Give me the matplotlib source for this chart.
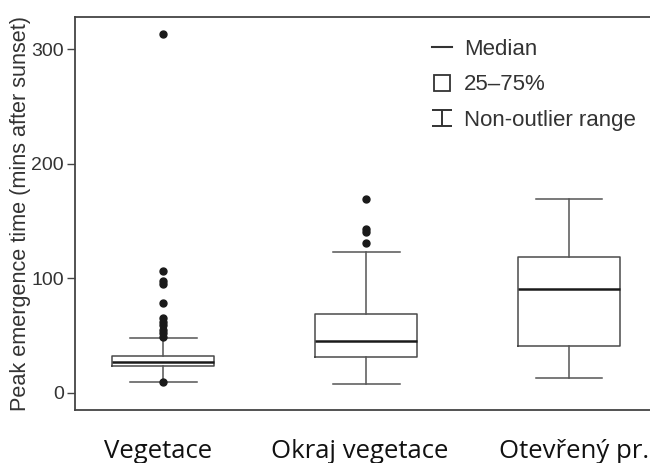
import matplotlib.pyplot as plt
import matplotlib.transforms as mtransforms
from matplotlib.lines import Line2D
from matplotlib.path import Path

# habitat categories (x labels)
categories = ["Vegetace", "Okraj vegetace", "Otevřený pr."]

# box statistics (mins after sunset)
medians = [27, 45.5, 91]
q1 = [23.5, 31.5, 41]
q3 = [32.5, 69, 118.5]
whisker_low = [9, 8, 13]
whisker_high = [48, 123, 169]
outliers = [
    [313, 106, 98, 95, 78, 65, 62, 59, 55, 52, 49, 9],
    [169, 143, 140, 131],
    [],
]

stats = []
for i, name in enumerate(categories):
    stats.append({
        "label": name,
        "med": medians[i],
        "q1": q1[i],
        "q3": q3[i],
        "whislo": whisker_low[i],
        "whishi": whisker_high[i],
        "fliers": outliers[i],
    })

fig = plt.figure(figsize=(6.5, 4.63), dpi=100)
ax = fig.add_axes([0.1154, 0.1145, 0.8846, 0.8488])

ax.bxp(
    stats,
    positions=[1, 2, 3],
    widths=0.5,
    showfliers=True,
    boxprops=dict(color="#4a4a4a", linewidth=1.1),
    medianprops=dict(color="#1a1a1a", linewidth=1.8),
    whiskerprops=dict(color="#555555", linewidth=1.1),
    capprops=dict(color="#555555", linewidth=1.1),
    flierprops=dict(marker="o", markerfacecolor="#1a1a1a", markeredgecolor="#1a1a1a",
                    markersize=5),
    capwidths=0.33,
)

ax.set_xlim(0.5665, 3.399)
ax.set_ylim(-15, 328)
ax.set_yticks([0, 100, 200, 300])

for side in ["left", "top", "bottom"]:
    ax.spines[side].set_color("#444444")
    ax.spines[side].set_linewidth(1.3)
ax.spines["right"].set_visible(False)

ax.tick_params(axis="y", length=6, width=1.0, color="#444444", pad=2,
               labelsize=14, labelcolor="#333333")
ax.set_xticks([1, 2, 3])
ax.set_xticklabels(categories, fontfamily="Open Sans", fontsize=18.5, color="#111111")
ax.tick_params(axis="x", length=0, pad=21)

# the category labels sit slightly off the box centres in the original
shifts = [-5, -6, 5]
for lab, dx in zip(ax.get_xticklabels(), shifts):
    lab.set_transform(lab.get_transform()
                      + mtransforms.ScaledTranslation(dx / 100, 0, fig.dpi_scale_trans))

for lab in ax.get_yticklabels():
    lab.set_fontfamily("Liberation Sans")

ax.set_ylabel("Peak emergence time (mins after sunset)", fontfamily="Liberation Sans",
              fontsize=15.6, color="#333333", labelpad=0.5)

# legend with custom handles
i_path = Path(
    [(-1, 0.75), (1, 0.75), (-1, -0.75), (1, -0.75), (0, -0.75), (0, 0.75)],
    [Path.MOVETO, Path.LINETO, Path.MOVETO, Path.LINETO, Path.MOVETO, Path.LINETO],
)
handles = [
    Line2D([], [], color="#333333", linewidth=1.5),
    Line2D([], [], color="#333333", marker="s", markerfacecolor="none",
           markeredgewidth=1.3, markersize=12, linestyle="none"),
    Line2D([], [], color="#333333", marker=i_path, markeredgewidth=1.4,
           markersize=15, linestyle="none"),
]
labels = ["Median", "25–75%", "Non-outlier range"]
leg = fig.legend(handles, labels, loc="upper left", bbox_to_anchor=(0.664, 0.916),
                 frameon=False, prop={"family": "Liberation Sans", "size": 16},
                 handlelength=0.9, handletextpad=0.55, labelspacing=0.65,
                 borderpad=0, borderaxespad=0)
for t in leg.get_texts():
    t.set_color("#333333")

fig.savefig("out.png", dpi=100)
